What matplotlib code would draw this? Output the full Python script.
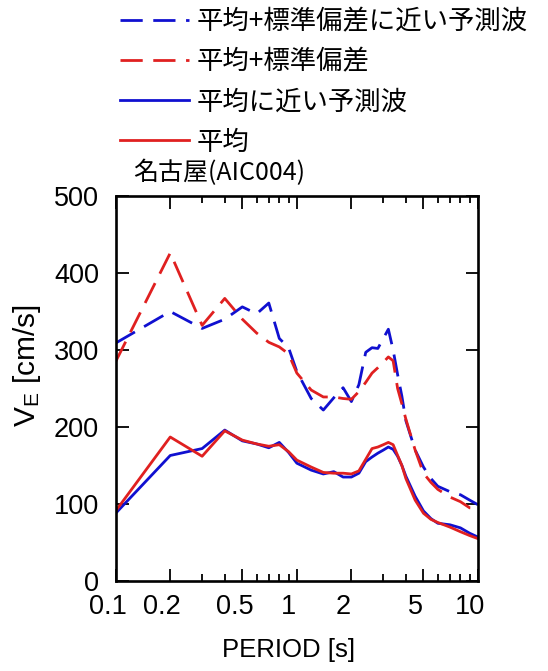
import matplotlib
matplotlib.use("Agg")
import matplotlib.pyplot as plt
import matplotlib.transforms as mtransforms
from matplotlib.ticker import FixedLocator, NullFormatter, FixedFormatter

plt.rcParams['font.family'] = ['Liberation Sans', 'Noto Sans CJK JP', 'DejaVu Sans']
plt.rcParams['mathtext.fontset'] = 'custom'
plt.rcParams['mathtext.rm'] = 'Liberation Sans'
plt.rcParams['mathtext.it'] = 'Liberation Sans'

# Periods [s]
period = [0.1, 0.2, 0.3, 0.4, 0.5, 0.6, 0.7, 0.8, 0.9, 1.0,
          1.2, 1.4, 1.6, 1.8, 2.0, 2.2, 2.4, 2.6, 2.8, 3.0,
          3.2, 3.4, 3.6, 3.8, 4.0, 4.5, 5.0, 5.5, 6.0, 7.0,
          8.0, 9.0, 10.0]

# Energy spectra V_E [cm/s]
mean_plus_sd_wave = [309, 350, 328, 340, 356, 347, 361, 315, 303, 272,
                     237, 222, 238, 251, 233, 255, 297, 303, 302, 315,
                     327, 300, 268, 240, 208, 170, 148, 133, 123, 116,
                     112, 105, 99]
mean_plus_sd = [285, 426, 332, 367, 340, 322, 310, 304, 295, 270,
                248, 239, 239, 237, 236, 246, 258, 270, 277, 284,
                291, 286, 250, 230, 210, 170, 140, 128, 119, 109,
                103, 95, 94]
mean_wave = [88, 163, 172, 196, 182, 178, 173, 180, 167, 153,
             144, 139, 142, 135, 135, 140, 155, 161, 166, 170,
             174, 171, 162, 150, 136, 110, 91, 81, 75, 73,
             69, 62, 57]
mean = [91, 187, 162, 195, 183, 178, 175, 177, 168, 157,
        148, 141, 140, 140, 139, 143, 158, 172, 174, 177,
        180, 177, 163, 150, 133, 105, 88, 80, 76, 70,
        64, 59, 55]

labels = ['平均+標準偏差に近い予測波', '平均+標準偏差', '平均に近い予測波', '平均']
title = '名古屋(AIC004)'
xticks = [0.1, 0.2, 0.5, 1, 2, 5, 10]
xticklabels = ['0.1', '0.2', '0.5', '1', '2', '5', '10']
xminor = [0.3, 0.4, 0.6, 0.7, 0.8, 0.9, 3, 4, 6, 7, 8, 9]
yticks = [0, 100, 200, 300, 400, 500]

W, H = 548, 671
fig = plt.figure(figsize=(W / 100, H / 100), dpi=100)
ax = fig.add_axes([115.7 / W, 1 - 581 / H, (478 - 115.7) / W, (581 - 196) / H])

blue = '#1010d0'
red = '#e02020'
lw = 2.0
dash = (8, 3.8)
l1, = ax.plot(period, mean_plus_sd_wave, color=blue, lw=lw, dashes=dash)
l2, = ax.plot(period, mean_plus_sd, color=red, lw=lw, dashes=dash)
l3, = ax.plot(period, mean_wave, color=blue, lw=lw)
l4, = ax.plot(period, mean, color=red, lw=lw)

ax.set_xscale('log')
ax.set_xlim(0.1, 10)
ax.set_ylim(0, 500)
ax.xaxis.set_major_locator(FixedLocator(xticks))
ax.xaxis.set_major_formatter(FixedFormatter(xticklabels))
ax.xaxis.set_minor_locator(FixedLocator(xminor))
ax.xaxis.set_minor_formatter(NullFormatter())
ax.yaxis.set_major_locator(FixedLocator(yticks))
ax.tick_params(which='both', direction='in', top=True, right=True, width=1.3,
               labelsize=19.5, colors='black')
ax.tick_params(which='major', length=9)
ax.tick_params(axis='x', which='major', pad=9)
ax.tick_params(axis='y', which='major', pad=12)
ax.tick_params(which='minor', length=5)
for s in ax.spines.values():
    s.set_linewidth(1.9)

# shift period labels slightly left
shift = mtransforms.ScaledTranslation(-8 / 100, 0, fig.dpi_scale_trans)
for lab in ax.get_xticklabels():
    lab.set_transform(lab.get_transform() + shift)

fig.text(289 / W, 1 - 650 / H, 'PERIOD [s]', fontsize=18.5, ha='center', va='center')
fig.text(27 / W, 1 - 366 / H, r'V$_{\mathrm{E}}$ [cm/s]', fontsize=21.5,
         ha='center', va='center', rotation=90)

fig.text(133 / W, 1 - 173 / H, title, fontsize=18, ha='left', va='center',
         family=['Noto Sans CJK JP', 'Liberation Sans'])

leg = fig.legend([l1, l2, l3, l4], labels, loc='upper left',
                 bbox_to_anchor=(120 / W, 1 - 8 / H), frameon=False,
                 prop={'family': ['Noto Sans CJK JP', 'Liberation Sans'], 'size': 19},
                 handlelength=2.6, handletextpad=0.3, labelspacing=0.5,
                 borderpad=0, borderaxespad=0)

fig.savefig('out.png', dpi=100)
